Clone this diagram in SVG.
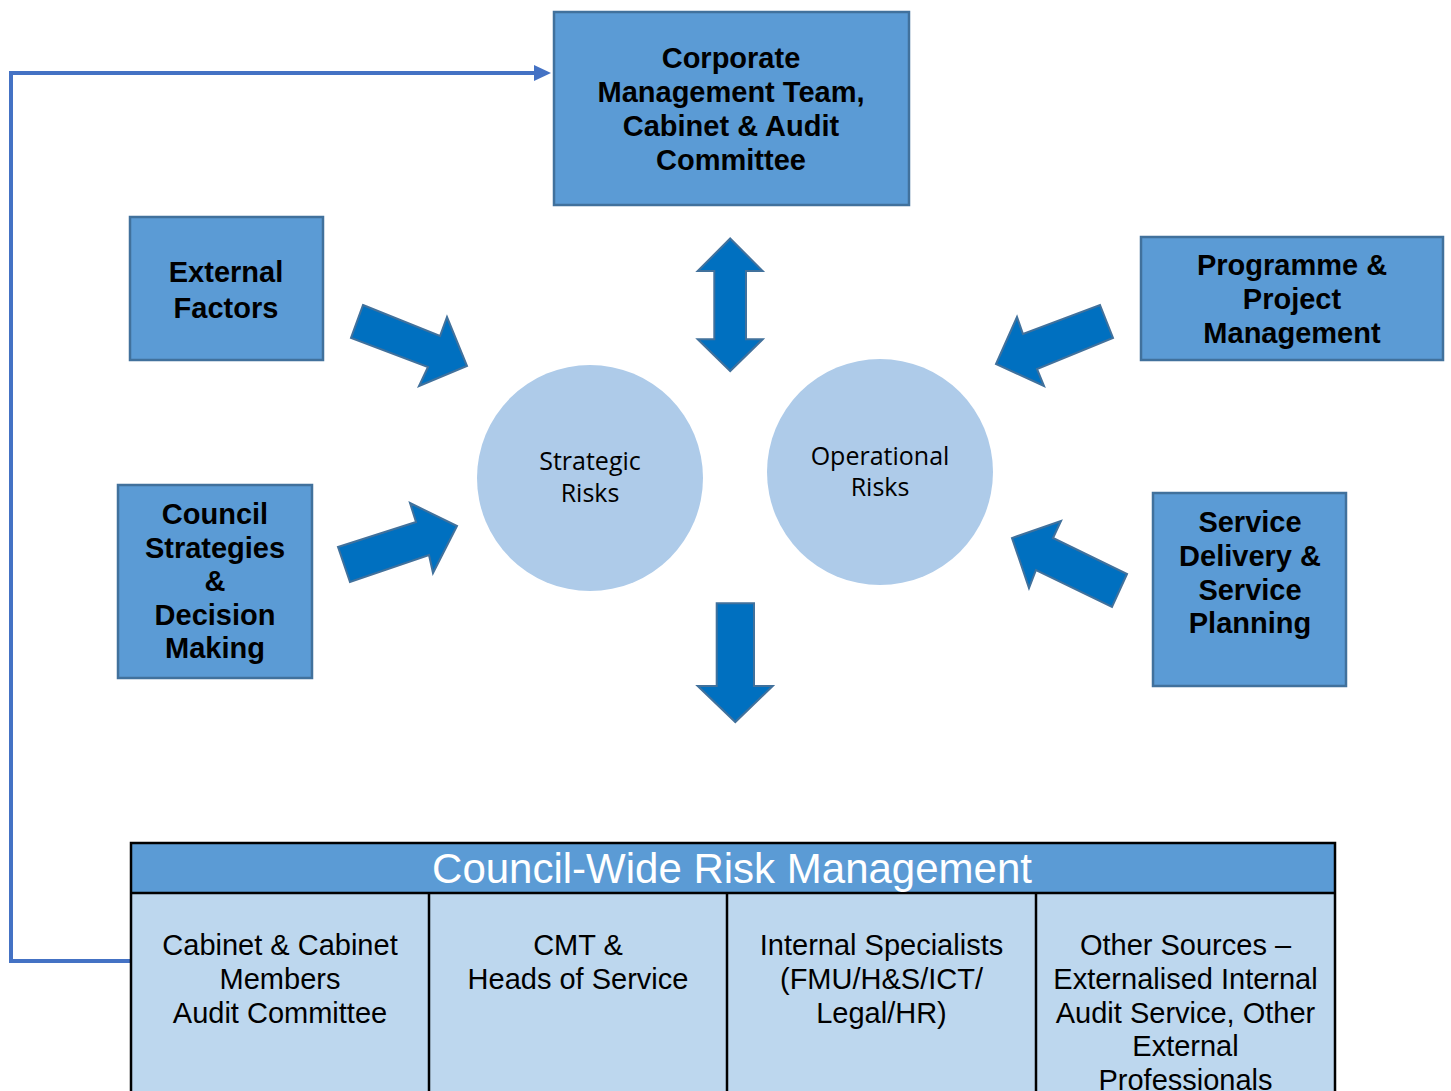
<svg xmlns="http://www.w3.org/2000/svg" width="1451" height="1091" viewBox="0 0 1451 1091">
  <defs>
    <marker id="feedHead" markerUnits="userSpaceOnUse" markerWidth="18" markerHeight="18" refX="16" refY="8" orient="auto">
      <path d="M0,0 L16,8 L0,16 Z" fill="#4472C4"/>
    </marker>
  </defs>
  <style>
    .box { fill: #5B9BD5; stroke: #41719C; stroke-width: 2.5; }
    .arrow { fill: #0070C0; stroke: #41719C; stroke-width: 2; stroke-linejoin: miter; }
    .circle { fill: #AECBE9; }
    .bt { font-family: "Liberation Sans", Arial, sans-serif; font-weight: bold; font-size: 29px; fill: #000; text-anchor: middle; }
    .ct { font-family: "Open Sans", "Noto Sans", sans-serif; font-size: 25px; fill: #000; text-anchor: middle; }
    .tt { font-family: "Liberation Sans", Arial, sans-serif; font-size: 29px; fill: #000; text-anchor: middle; }
    .ht { font-family: "Liberation Sans", Arial, sans-serif; font-size: 42px; fill: #fff; text-anchor: middle; }
    .grid { stroke: #000; stroke-width: 2.5; fill: none; }
    .feed { fill: none; stroke: #4472C4; stroke-width: 4; }
  </style>

  <rect width="1451" height="1091" fill="#fff"/>

  <!-- feedback loop from the risk management table back to the top box -->
  <g id="connectors">
    <polyline class="feed" points="131,961 11,961 11,73 535,73"/>
    <path d="M534,65 L551,73 L534,81 Z" fill="#4472C4"/>
    <!-- block arrows -->
    <polygon class="arrow" points="363,305 440,336 447,317 467,366 419,386 428,367 351,338"/>
    <polygon class="arrow" points="338,547 416,522 410,503 457,526 433,573 429,555 350,582"/>
    <polygon class="arrow" points="1100,305 1113,338 1037,369 1044,386 996,364 1017,317 1023,334"/>
    <polygon class="arrow" points="1127,574 1112,607 1036,570 1029,588 1012,538 1061,521 1053,538"/>
    <polygon class="arrow" points="730.2,238.5 762.7,271 746,271 746,339.3 762.7,339.3 730.2,371 697.7,339.3 714.3,339.3 714.3,271 697.7,271"/>
    <polygon class="arrow" points="716.7,603.3 754,603.3 754,686 772.7,686 735.3,722 697.7,686 716.7,686"/>
  </g>

  <g id="corporate">
    <rect class="box" x="554" y="12" width="355" height="193"/>
    <text class="bt" x="731" y="68">Corporate</text>
    <text class="bt" x="731" y="102">Management Team,</text>
    <text class="bt" x="731" y="136">Cabinet &amp; Audit</text>
    <text class="bt" x="731" y="170">Committee</text>
  </g>

  <g id="external">
    <rect class="box" x="130" y="217" width="193" height="143"/>
    <text class="bt" x="226" y="282">External</text>
    <text class="bt" x="226" y="318">Factors</text>
  </g>

  <g id="council">
    <rect class="box" x="118" y="485" width="194" height="193"/>
    <text class="bt" x="215" y="524">Council</text>
    <text class="bt" x="215" y="557.5">Strategies</text>
    <text class="bt" x="215" y="591">&amp;</text>
    <text class="bt" x="215" y="624.5">Decision</text>
    <text class="bt" x="215" y="658">Making</text>
  </g>

  <g id="programme">
    <rect class="box" x="1141" y="237" width="302" height="123"/>
    <text class="bt" x="1292" y="275">Programme &amp;</text>
    <text class="bt" x="1292" y="309">Project</text>
    <text class="bt" x="1292" y="342.5">Management</text>
  </g>

  <g id="service">
    <rect class="box" x="1153" y="493" width="193" height="193"/>
    <text class="bt" x="1250" y="531.5">Service</text>
    <text class="bt" x="1250" y="565.5">Delivery &amp;</text>
    <text class="bt" x="1250" y="599.5">Service</text>
    <text class="bt" x="1250" y="633">Planning</text>
  </g>

  <g id="strategic">
    <circle class="circle" cx="590" cy="478" r="113"/>
    <text class="ct" x="590" y="470">Strategic</text>
    <text class="ct" x="590" y="502">Risks</text>
  </g>

  <g id="operational">
    <circle class="circle" cx="880" cy="472" r="113"/>
    <text class="ct" x="880" y="465">Operational</text>
    <text class="ct" x="880" y="496">Risks</text>
  </g>

  <g id="risk-table">
    <rect x="131" y="843" width="1204" height="50" fill="#5B9BD5"/>
    <rect x="131" y="893" width="1204" height="210" fill="#BDD7EE"/>
    <rect class="grid" x="131" y="843" width="1204" height="260"/>
    <line class="grid" x1="131" y1="893" x2="1335" y2="893"/>
    <line class="grid" x1="429" y1="893" x2="429" y2="1103"/>
    <line class="grid" x1="727" y1="893" x2="727" y2="1103"/>
    <line class="grid" x1="1036" y1="893" x2="1036" y2="1103"/>
    <text class="ht" x="732" y="883">Council-Wide Risk Management</text>

    <text class="tt" x="280" y="955">Cabinet &amp; Cabinet</text>
    <text class="tt" x="280" y="989">Members</text>
    <text class="tt" x="280" y="1023">Audit Committee</text>

    <text class="tt" x="578" y="955">CMT &amp;</text>
    <text class="tt" x="578" y="989">Heads of Service</text>

    <text class="tt" x="881.5" y="955">Internal Specialists</text>
    <text class="tt" x="881.5" y="989">(FMU/H&amp;S/ICT/</text>
    <text class="tt" x="881.5" y="1023">Legal/HR)</text>

    <text class="tt" x="1185.5" y="955">Other Sources –</text>
    <text class="tt" x="1185.5" y="989">Externalised Internal</text>
    <text class="tt" x="1185.5" y="1022.5">Audit Service, Other</text>
    <text class="tt" x="1185.5" y="1056">External</text>
    <text class="tt" x="1185.5" y="1089.5">Professionals</text>
  </g>
</svg>
